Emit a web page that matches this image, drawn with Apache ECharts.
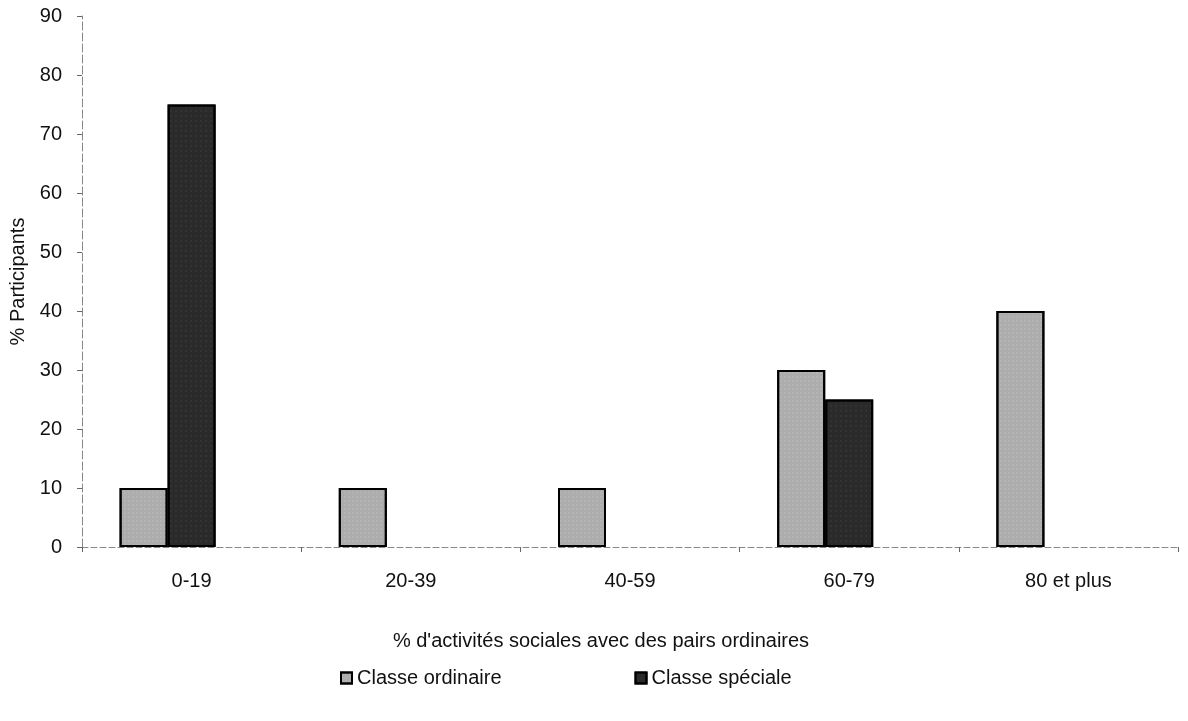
<!DOCTYPE html>
<html><head><meta charset="utf-8">
<script src="https://cdn.jsdelivr.net/npm/echarts@6/dist/echarts.min.js"></script>
<style>html,body{margin:0;padding:0;background:#fff}#c{width:1188px;height:721px}</style>
</head><body><div id="c"></div>
<script>
const categories = ['0-19', '20-39', '40-59', '60-79', '80 et plus'];
const ordinaire = [10, 10, 10, 30, 40];
const speciale = [75, 0, 0, 25, 0];
const yTicks = [0, 10, 20, 30, 40, 50, 60, 70, 80, 90];

const chart = echarts.init(document.getElementById('c'));
const font = 'Liberation Sans, Arial, sans-serif';
const fs = 20;
function items(arr) {
  return arr.map(v => ({ value: v, itemStyle: { borderWidth: v === 0 ? 0 : 2 } }));
}
chart.setOption({
  animation: false,
  backgroundColor: '#fff',
  grid: { left: 82, right: 10, top: 16, bottom: 174, containLabel: false, outerBoundsMode: 'none' },
  xAxis: {
    type: 'category', data: categories,
    axisLine: { lineStyle: { color: '#888', type: [6, 3], width: 1 } },
    axisTick: { show: true, length: 5, lineStyle: { color: '#666' } },
    axisLabel: { color: '#111', fontSize: fs, fontFamily: font, margin: 24 },
    name: "% d'activités sociales avec des pairs ordinaires",
    nameLocation: 'middle', nameGap: 84,
    nameTextStyle: { color: '#111', fontSize: fs, fontFamily: font, padding: [0, 58, 0, 0] }
  },
  yAxis: {
    type: 'value', min: yTicks[0], max: yTicks[yTicks.length - 1], interval: 10,
    splitLine: { show: false },
    axisLine: { show: true, lineStyle: { color: '#888', type: [8, 3], width: 1 } },
    axisTick: { show: true, length: 5, lineStyle: { color: '#666' } },
    axisLabel: { color: '#111', fontSize: fs, fontFamily: font, margin: 20 },
    name: '% Participants', nameLocation: 'middle', nameGap: 54, nameRotate: 90,
    nameTextStyle: { color: '#111', fontSize: fs, fontFamily: font }
  },
  legend: {
    bottom: 28, left: 335, itemGap: 133, itemWidth: 11, itemHeight: 11,
    icon: 'rect',
    textStyle: { color: '#111', fontSize: fs, fontFamily: font },
    data: ['Classe ordinaire', 'Classe spéciale']
  },
  series: [
    { name: 'Classe ordinaire', type: 'bar', data: items(ordinaire), barWidth: 48, barGap: '0%',
      itemStyle: { color: '#adadad', borderColor: '#000', borderWidth: 2,
        decal: { symbol: 'rect', symbolSize: 0.5, color: 'rgba(255,255,255,0.35)', dashArrayX: [2, 2], dashArrayY: [2, 2], rotation: 0 } } },
    { name: 'Classe spéciale', type: 'bar', data: items(speciale), barWidth: 48, barGap: '0%',
      itemStyle: { color: '#2a2a2a', borderColor: '#000', borderWidth: 2,
        decal: { symbol: 'rect', symbolSize: 0.5, color: 'rgba(255,255,255,0.18)', dashArrayX: [2, 3], dashArrayY: [2, 3], rotation: 0 } } },
    { name: 'vide', type: 'bar', data: [], barWidth: 48, barGap: '0%' }
  ]
});
</script></body></html>
